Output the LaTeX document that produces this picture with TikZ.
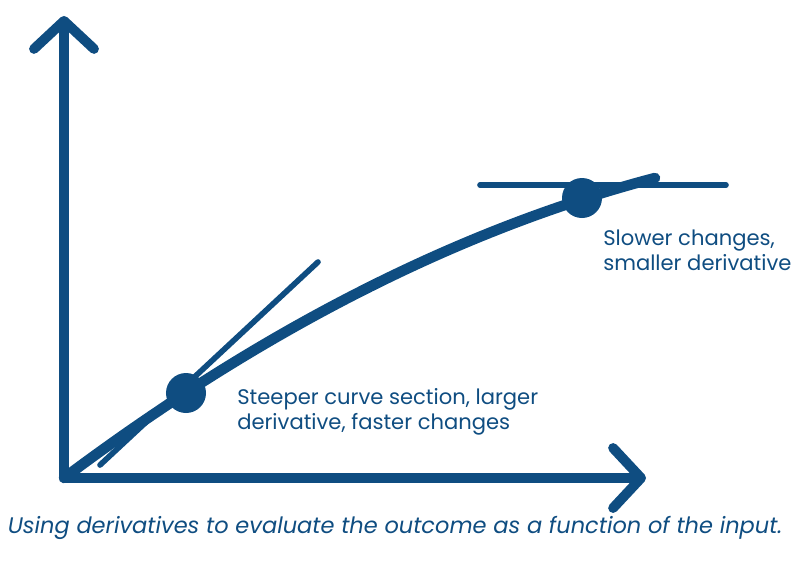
\documentclass[tikz,border=0pt]{standalone}
\usepackage{fontspec}
\setmainfont{Poppins}
\usetikzlibrary{arrows.meta,positioning}
\definecolor{Navy}{HTML}{0F4D81}
\tikzset{
 axis/.style={draw=Navy,line width=7pt,line join=round,line cap=round},
 curveline/.style={draw=Navy,line width=7.5pt,line cap=round},
 tanline/.style={draw=Navy,line width=4pt,line cap=round},
 dot/.style={circle,fill=Navy,minimum size=1cm,inner sep=0pt},
 note/.style={anchor=west,align=left,text=Navy,font=\fontsize{15}{18}\selectfont,inner sep=0pt},
 capline/.style={text=Navy,font=\fontsize{16}{19}\selectfont\itshape,inner sep=0pt}
}
\begin{document}
\begin{tikzpicture}[x=0.025cm,y=-0.025cm]
\useasboundingbox (0,0) rectangle (800,574);
% axes
\coordinate (origin) at (64,478);
\coordinate (ytop) at (64,16);
\coordinate (xend) at (646,478);
\draw[axis,{Straight Barb[length=0.7cm,width=1.5cm,round]}-{Straight Barb[length=0.7cm,width=1.5cm,round]}] (ytop) -- (origin) -- (xend);
% outcome curve and tangents
\coordinate (curvend) at (655,178);
\draw[curveline] (origin) .. controls (263,329) and (460,229) .. (curvend);
\coordinate (tana) at (100,465);
\coordinate (tanb) at (318,262);
\coordinate (tanc) at (480,185);
\coordinate (tand) at (726,185);
\draw[tanline] (tana) -- (tanb);
\draw[tanline] (tanc) -- (tand);
\node[dot] (steep) at (186,393) {};
\node[dot] (flat) at (582,198) {};
% labels
\node[note] (steepnote) at (237,412) {Steeper curve section, larger\\derivative, faster changes};
\node[note] (flatnote) at (603,250) {Slower changes,\\smaller derivative};
\node[capline] (caption) at (395,528) {Using derivatives to evaluate the outcome as a function of the input.};
\end{tikzpicture}
\end{document}
